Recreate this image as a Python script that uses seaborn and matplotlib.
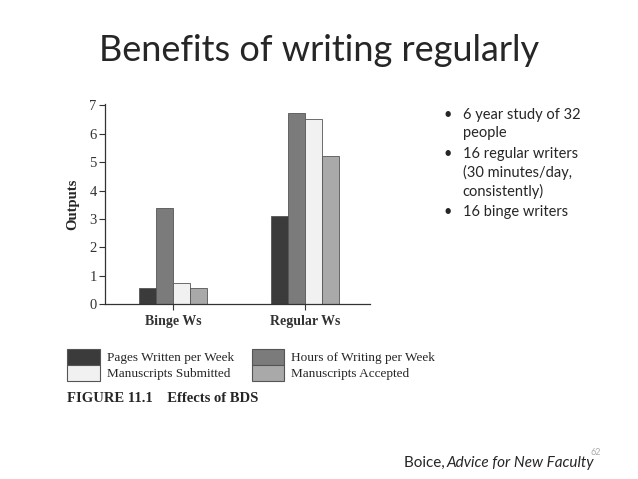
import matplotlib
matplotlib.use("Agg")
import matplotlib.pyplot as plt
import pandas as pd
import seaborn as sns
from matplotlib.patches import Patch

groups = ["Binge Ws", "Regular Ws"]
measures = ["Pages Written per Week", "Hours of Writing per Week",
            "Manuscripts Submitted", "Manuscripts Accepted"]
pages = [0.57, 3.12]
hours = [3.37, 6.72]
submitted = [0.75, 6.53]
accepted = [0.55, 5.22]
colors = ["#3b3b3b", "#7b7b7b", "#f1f1f1", "#a9a9a9"]
bullets = ["6 year study of 32\npeople",
           "16 regular writers\n(30 minutes/day,\nconsistently)",
           "16 binge writers"]

rows = []
for m, vals in zip(measures, [pages, hours, submitted, accepted]):
    for g, v in zip(groups, vals):
        rows.append({"group": g, "measure": m, "value": v})
df = pd.DataFrame(rows)

sns.set_style("ticks")
fig = plt.figure(figsize=(6.38, 4.79), dpi=100)
ax = fig.add_axes([0.1646, 0.3653, 0.4155, 0.4175])

sns.barplot(data=df, x="group", y="value", hue="measure", hue_order=measures,
            palette=colors, width=0.515, edgecolor="#555555", linewidth=0.6,
            legend=False, ax=ax)

serif = "Liberation Serif"
ax.set_xlim(-0.515, 1.49)
ax.set_ylim(0, 7.05)
ax.set_yticks(range(8))
ax.set_yticklabels([str(i) for i in range(8)], fontfamily=serif, fontsize=10.5)
ax.set_xticks([0, 1])
ax.set_xticklabels(groups, fontfamily=serif, fontweight="bold", fontsize=10)
ax.set_xlabel("")
ax.set_ylabel("Outputs", fontfamily=serif, fontweight="bold", fontsize=10.5,
              labelpad=7)
ax.tick_params(axis="both", length=4, width=0.8, colors="#333333", pad=2)
ax.tick_params(axis="x", pad=4)
for s in ["top", "right"]:
    ax.spines[s].set_visible(False)
for s in ["left", "bottom"]:
    ax.spines[s].set_color("#333333")
    ax.spines[s].set_linewidth(0.9)

# legend: two stacked boxes per column
order = [0, 2, 1, 3]
handles = [Patch(facecolor=colors[i], edgecolor="#555555", linewidth=0.8) for i in order]
labels = [measures[i] for i in order]
fig.legend(handles, labels, ncol=2, frameon=False, loc="upper left",
           bbox_to_anchor=(0.105, 0.271), prop={"family": serif, "size": 9.5},
           labelspacing=0, handleheight=1.45, handlelength=2.5,
           handletextpad=0.5, columnspacing=1.35, borderpad=0, borderaxespad=0)

fig.text(0.105, 0.168, "FIGURE 11.1    Effects of BDS", fontfamily=serif,
         fontweight="bold", fontsize=10.5, va="center", ha="left")

fig.text(0.155, 0.894, "Benefits of writing regularly", fontfamily="Lato",
         fontsize=26, va="center", ha="left")

y = 0.775
for b in bullets:
    fig.text(0.695, y, "\u2022", fontfamily="Lato", fontsize=10.5, va="top")
    fig.text(0.725, y, b, fontfamily="Lato", fontsize=10.5, va="top",
             linespacing=1.35)
    y -= 0.0405 * (b.count("\n") + 1)

fig.text(0.633, 0.033, "Boice, ", fontfamily="Lato", fontsize=11, va="center")
fig.text(0.7, 0.033, "Advice for New Faculty", fontfamily="Lato", style="italic",
         fontsize=11, va="center")
fig.text(0.925, 0.056, "62", fontfamily="Lato", fontsize=6.5, color="#aaaaaa",
         va="center")

fig.savefig("out.png", dpi=100)
